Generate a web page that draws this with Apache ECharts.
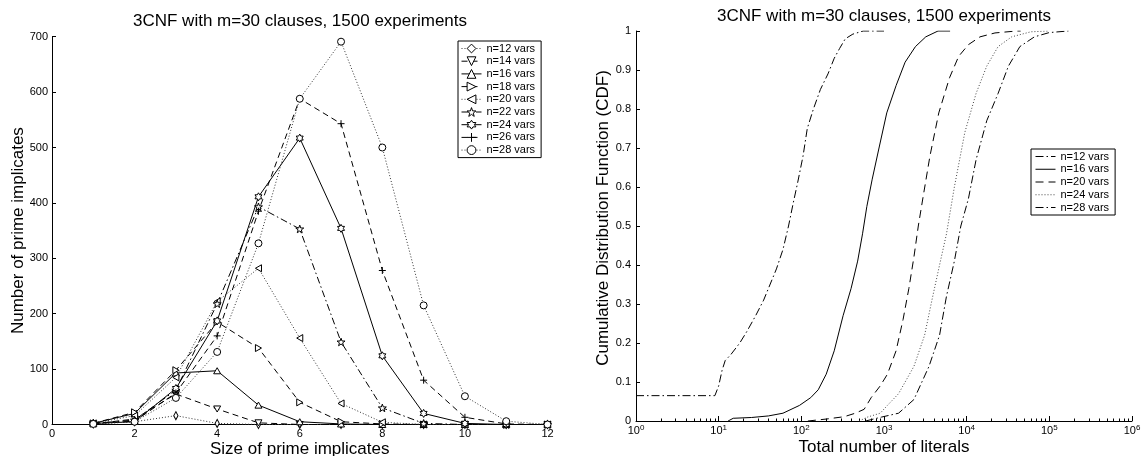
<!DOCTYPE html>
<html>
<head>
<meta charset="utf-8">
<script src="https://cdn.jsdelivr.net/npm/echarts@6/dist/echarts.min.js"></script>
<style>
html,body{margin:0;padding:0;background:#fff;}
#chart{width:1141px;height:456px;}
</style>
</head>
<body>
<div id="chart"></div>
<script>
const FONT = '"Liberation Sans", Arial, Helvetica, sans-serif';

// ---------- Left plot: number of prime implicates by size ----------
const titleText = '3CNF with m=30 clauses, 1500 experiments';
const sizes = [1, 2, 3, 4, 5, 6, 7, 8, 9, 10, 11, 12];
const n12 = [1, 5, 16, 2, 0, 0, 0, 0, 0, 0, 0, 0];
const n14 = [1, 10, 55, 28, 3, 0, 0, 0, 0, 0, 0, 0];
const n16 = [2, 20, 93, 97, 35, 5, 1, 0, 0, 0, 0, 0];
const n18 = [2, 22, 98, 185, 138, 40, 5, 1, 0, 0, 0, 0];
const n20 = [2, 16, 85, 222, 282, 156, 38, 4, 0, 0, 0, 0];
const n22 = [2, 8, 62, 218, 393, 353, 149, 30, 2, 0, 0, 0];
const n24 = [2, 5, 65, 187, 411, 517, 354, 124, 20, 2, 0, 0];
const n26 = [2, 6, 57, 160, 385, 588, 543, 278, 80, 13, 1, 0];
const n28 = [1, 5, 48, 131, 327, 588, 691, 500, 215, 51, 6, 0];
const leftNames = ['n=12 vars','n=14 vars','n=16 vars','n=18 vars','n=20 vars','n=22 vars','n=24 vars','n=26 vars','n=28 vars'];
const leftValues = [n12, n14, n16, n18, n20, n22, n24, n26, n28];

// ---------- Right plot: CDF of total number of literals ----------
const cdf12 = [[1,0.065],[9,0.065],[10,0.09],[11,0.13],[12,0.155],[14,0.17],[18,0.2],[22,0.23],[28,0.27],[35,0.31],[40,0.34],[50,0.39],[60,0.44],[70,0.5],[80,0.56],[90,0.61],[105,0.68],[118,0.75],[140,0.8],[170,0.85],[210,0.89],[250,0.93],[290,0.955],[340,0.98],[420,0.992],[560,1.0],[1000,1.0]];
const cdf16 = [[13,0],[15,0.007],[25,0.009],[40,0.013],[60,0.02],[95,0.04],[130,0.06],[160,0.08],[200,0.12],[250,0.18],[320,0.27],[400,0.34],[480,0.41],[550,0.48],[620,0.55],[720,0.62],[870,0.7],[1080,0.79],[1400,0.86],[1800,0.92],[2400,0.96],[3200,0.985],[4500,1.0],[6300,1.0]];
const cdf20 = [[120,0],[200,0.005],[330,0.011],[450,0.02],[575,0.03],[700,0.06],[900,0.09],[1100,0.12],[1400,0.18],[1700,0.26],[2000,0.34],[2300,0.42],[2600,0.5],[3000,0.58],[3600,0.68],[4600,0.79],[6200,0.88],[8000,0.935],[10500,0.965],[14500,0.985],[22000,0.995],[40000,1.0],[45000,1.0]];
const cdf24 = [[500,0],[630,0.01],[900,0.02],[1100,0.04],[1500,0.07],[2300,0.14],[3100,0.22],[3800,0.31],[4700,0.4],[5700,0.48],[7100,0.6],[9500,0.74],[13000,0.84],[17500,0.91],[24000,0.96],[35000,0.985],[60000,0.998],[100000,1.0]];
const cdf28 = [[600,0],[930,0.01],[1500,0.02],[2300,0.055],[3500,0.14],[4700,0.22],[5700,0.32],[7100,0.41],[8500,0.5],[10500,0.57],[13000,0.67],[17500,0.77],[24000,0.84],[32000,0.91],[44000,0.96],[66000,0.985],[100000,0.996],[170000,1.0]];
const rightNames = ['n=12 vars','n=16 vars','n=20 vars','n=24 vars','n=28 vars'];
const rightValues = [cdf12, cdf16, cdf20, cdf24, cdf28];

const decadeTicks = [1, 10, 100, 1000, 10000, 100000, 1000000];
const minorMultipliers = [2, 3, 4, 5, 6, 7, 8, 9];

// ---------- styles ----------
const DOT = [1, 2];
const DASH = [6, 4];
const DASHDOT = [7, 3, 1.5, 3];
const SOLID = 'solid';

const SYM = {
  diamond: 'path://M5,0 L10,7 L5,14 L0,7 Z',
  up: 'path://M5,0 L10,8.66 L0,8.66 Z',
  down: 'path://M0,0 L10,0 L5,8.66 Z',
  right: 'path://M0,0 L8.66,5 L0,10 Z',
  left: 'path://M8.66,0 L0,5 L8.66,10 Z',
  star: 'path://M0,-10 L2.35,-3.24 L9.51,-3.09 L3.8,1.24 L5.88,8.09 L0,4 L-5.88,8.09 L-3.8,1.24 L-9.51,-3.09 L-2.35,-3.24 Z',
  hex: 'path://M0,-10 L2.887,-5 L8.66,-5 L5.77,0 L8.66,5 L2.887,5 L0,10 L-2.887,5 L-8.66,5 L-5.77,0 L-8.66,-5 L-2.887,-5 Z',
  plus: 'path://M0,5 L10,5 M5,0 L5,10',
  circle: 'circle',
  blank: 'path://M0,0 L1,0 L1,1 L0,1 Z'
};

const leftStyles = [
  {sym: SYM.diamond, size: [6, 8], line: DOT, color: '#333'},
  {sym: SYM.down, size: 7, line: DASH, color: '#000'},
  {sym: SYM.up, size: 7, line: SOLID, color: '#000'},
  {sym: SYM.right, size: 7, line: DASH, color: '#000'},
  {sym: SYM.left, size: 7, line: DOT, color: '#333'},
  {sym: SYM.star, size: 8, line: DASHDOT, color: '#000'},
  {sym: SYM.hex, size: 8, line: SOLID, color: '#000'},
  {sym: SYM.plus, size: 7, line: DASH, color: '#000'},
  {sym: SYM.circle, size: 7, line: DOT, color: '#333'}
];

const rightStyles = [
  {line: [8, 3, 1.5, 3], color: '#000'},
  {line: SOLID, color: '#000'},
  {line: [8, 5], color: '#000'},
  {line: [1, 2], color: '#444'},
  {line: [8, 3, 1.5, 3], color: '#000'}
];

const series = [];
leftNames.forEach((name, k) => {
  const st = leftStyles[k];
  series.push({
    name: name,
    type: 'line',
    xAxisIndex: 0,
    yAxisIndex: 0,
    data: sizes.map((s, i) => [s, leftValues[k][i]]),
    symbol: st.sym,
    symbolSize: st.size,
    symbolKeepAspect: true,
    showSymbol: true,
    lineStyle: {color: st.color, width: 1, type: st.line},
    itemStyle: {color: '#fff', borderColor: '#000', borderWidth: 1},
    emphasis: {disabled: true},
    animation: false,
    z: 3
  });
});
rightNames.forEach((name, k) => {
  const st = rightStyles[k];
  series.push({
    name: name + ' ',
    type: 'line',
    xAxisIndex: 1,
    yAxisIndex: 1,
    data: rightValues[k],
    symbol: SYM.blank,
    symbolSize: 1,
    showSymbol: false,
    lineStyle: {color: st.color, width: 1, type: st.line},
    itemStyle: {color: 'rgba(0,0,0,0)', borderWidth: 0},
    emphasis: {disabled: true},
    animation: false,
    z: 3
  });
});

const minorTicks = [];
decadeTicks.slice(0, -1).forEach(d => minorMultipliers.forEach(m => minorTicks.push(d * m)));

const axisText = {color: '#000', fontFamily: FONT, fontSize: 11};
const nameText = {color: '#000', fontFamily: FONT, fontSize: 17};

const option = {
  animation: false,
  backgroundColor: '#fff',
  title: [
    {text: titleText, left: 300, top: 13, textAlign: 'center', padding: 0,
     textStyle: {fontFamily: FONT, fontSize: 17, fontWeight: 'normal', color: '#000'}},
    {text: titleText, left: 884, top: 8, textAlign: 'center', padding: 0,
     textStyle: {fontFamily: FONT, fontSize: 17, fontWeight: 'normal', color: '#000'}}
  ],
  grid: [
    {left: 52, top: 36.7, width: 495.5, height: 387.8, containLabel: false, outerBoundsMode: 'none'},
    {left: 636, top: 31, width: 496, height: 390, containLabel: false, outerBoundsMode: 'none'}
  ],
  legend: [
    {
      data: leftNames,
      orient: 'vertical',
      left: 458, top: 41,
      padding: [2, 6, 2, 3],
      itemWidth: 20, itemHeight: 11, itemGap: 1.7,
      borderColor: '#000', borderWidth: 1,
      backgroundColor: '#fff',
      selectedMode: false,
      textStyle: {fontFamily: FONT, fontSize: 11, color: '#000'},
      lineStyle: {width: 1},
      itemStyle: {borderWidth: 1}
    },
    {
      data: rightNames.map(n => n + ' '),
      orient: 'vertical',
      left: 1031, top: 149,
      padding: [2, 6, 2, 4],
      itemWidth: 20, itemHeight: 11, itemGap: 1.75,
      borderColor: '#000', borderWidth: 1,
      backgroundColor: '#fff',
      selectedMode: false,
      formatter: n => n.trim(),
      textStyle: {fontFamily: FONT, fontSize: 11, color: '#000'},
      lineStyle: {width: 1},
      itemStyle: {borderWidth: 0}
    }
  ],
  xAxis: [
    {
      type: 'value', gridIndex: 0, min: 0, max: 12, interval: 2,
      name: 'Size of prime implicates', nameLocation: 'middle', nameGap: 16,
      nameMoveOverlap: false,
      nameTextStyle: nameText,
      axisLine: {show: true, onZero: false, lineStyle: {color: '#000', width: 1}},
      axisTick: {show: true, inside: true, length: 4, lineStyle: {color: '#000'}},
      axisLabel: Object.assign({margin: 4}, axisText),
      splitLine: {show: false}
    },
    {
      type: 'log', logBase: 10, gridIndex: 1, min: 1, max: 1000000,
      name: 'Total number of literals', nameLocation: 'middle', nameGap: 18,
      nameMoveOverlap: false,
      nameTextStyle: nameText,
      axisLine: {show: true, onZero: false, lineStyle: {color: '#000', width: 1}},
      axisTick: {show: true, inside: true, length: 5, lineStyle: {color: '#000'}, customValues: decadeTicks},
      axisLabel: {
        margin: 3,
        customValues: decadeTicks,
        formatter: v => '{b|10}{s|' + Math.round(Math.log10(v)) + '}',
        rich: {
          b: {fontFamily: FONT, fontSize: 11, color: '#000', lineHeight: 12, verticalAlign: 'bottom'},
          s: {fontFamily: FONT, fontSize: 8, color: '#000', lineHeight: 12, verticalAlign: 'top'}
        }
      },
      splitLine: {show: false}
    },
    {
      type: 'log', logBase: 10, gridIndex: 1, min: 1, max: 1000000, position: 'bottom',
      axisLine: {show: false},
      axisTick: {show: true, inside: true, length: 2.5, lineStyle: {color: '#000'}, customValues: minorTicks},
      axisLabel: {show: false},
      splitLine: {show: false}
    }
  ],
  yAxis: [
    {
      type: 'value', gridIndex: 0, min: 0, max: 700, interval: 100,
      name: 'Number of prime implicates', nameLocation: 'middle', nameGap: 25,
      nameMoveOverlap: false,
      nameTextStyle: nameText,
      axisLine: {show: true, onZero: false, lineStyle: {color: '#000', width: 1}},
      axisTick: {show: true, inside: true, length: 4, lineStyle: {color: '#000'}},
      axisLabel: Object.assign({margin: 4}, axisText),
      splitLine: {show: false}
    },
    {
      type: 'value', gridIndex: 1, min: 0, max: 1, interval: 0.1,
      name: 'Cumulative Distribution Function (CDF)', nameLocation: 'middle', nameGap: 24,
      nameMoveOverlap: false,
      nameTextStyle: Object.assign({padding: [0, 0, 0, 16]}, nameText),
      axisLine: {show: true, onZero: false, lineStyle: {color: '#000', width: 1}},
      axisTick: {show: true, inside: true, length: 4, lineStyle: {color: '#000'}},
      axisLabel: Object.assign({margin: 5}, axisText),
      splitLine: {show: false}
    }
  ],
  series: series
};

const chart = echarts.init(document.getElementById('chart'), null, {renderer: 'canvas'});
chart.setOption(option);
</script>
</body>
</html>
